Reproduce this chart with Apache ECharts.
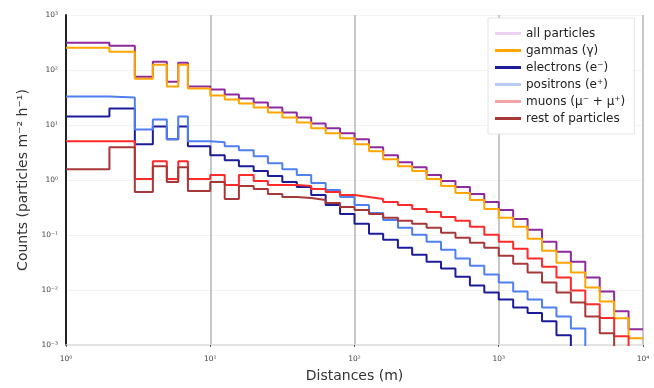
<!DOCTYPE html>
<html>
<head>
<meta charset="utf-8">
<script src="https://cdn.jsdelivr.net/npm/echarts@6/dist/echarts.min.js"></script>
<style>
  html, body { margin: 0; padding: 0; background: #fff; }
  #chart { width: 654px; height: 388px; }
</style>
</head>
<body>
<div id="chart"></div>
<script>
// bin edges (m): coarse bins up to 10 m, then 10 bins per decade
const binEdges = [1, 2, 3, 4, 5, 6, 7,
  10, 12.6, 15.8, 20, 25.1, 31.6, 39.8, 50.1, 63.1, 79.4,
  100, 126, 158, 200, 251, 316, 398, 501, 631, 794,
  1000, 1259, 1585, 1995, 2512, 3162, 3981, 5012, 6310, 7943, 10000];

// counts per bin (particles m^-2 h^-1)
const allParticles = [312, 275, 75.7, 141, 61.4, 136, 49.9,
  44.0, 35.7, 30.3, 25.6, 20.8, 16.9, 13.7, 10.7, 8.7, 7.05,
  5.50, 3.94, 2.82, 2.11, 1.71, 1.23, 0.955, 0.745, 0.556, 0.398,
  0.286, 0.196, 0.124, 0.0753, 0.0497, 0.0327, 0.0168, 0.0094, 0.0041, 0.00193];
const gammas = [253, 214, 69.6, 125, 49.9, 125, 45.9,
  34.3, 29.0, 24.6, 20.8, 16.9, 13.7, 11.1, 8.7, 7.05, 5.73,
  4.46, 3.33, 2.39, 1.78, 1.45, 1.04, 0.776, 0.579, 0.433, 0.298,
  0.205, 0.141, 0.0853, 0.0518, 0.0314, 0.0207, 0.0111, 0.0062, 0.00305, 0.00133];
const electrons = [14.3, 20.0, 4.46, 9.44, 5.50, 9.44, 4.10,
  2.82, 2.29, 1.78, 1.45, 1.18, 0.916, 0.745, 0.533, 0.352, 0.242,
  0.160, 0.105, 0.0818, 0.0587, 0.0439, 0.0327, 0.0245, 0.0175, 0.0121, 0.0090,
  0.0067, 0.0048, 0.0038, 0.0027, 0.0015];
const positrons = [32.9, 31.6, 8.32, 12.6, 5.50, 14.3, 5.05,
  4.84, 4.10, 3.47, 2.71, 2.02, 1.57, 1.23, 0.879, 0.656, 0.491,
  0.352, 0.252, 0.188, 0.135, 0.101, 0.0753, 0.0540, 0.0372, 0.0277, 0.0191,
  0.0137, 0.0094, 0.0067, 0.0048, 0.0033, 0.0020];
const muons = [5.05, 5.05, 1.04, 2.20, 1.04, 2.20, 1.04,
  1.23, 0.809, 1.23, 0.955, 0.809, 0.809, 0.776, 0.684, 0.604, 0.533,
  0.491, 0.452, 0.398, 0.352, 0.298, 0.263, 0.213, 0.181, 0.141, 0.101,
  0.0753, 0.0562, 0.0372, 0.0266, 0.0168, 0.0098, 0.0055, 0.0031, 0.00144];
const restOfParticles = [1.57, 3.94, 0.604, 1.78, 0.916, 1.71, 0.630,
  0.916, 0.452, 0.776, 0.684, 0.556, 0.491, 0.471, 0.434, 0.382, 0.324,
  0.286, 0.242, 0.205, 0.181, 0.160, 0.135, 0.110, 0.0889, 0.0723, 0.0587,
  0.0421, 0.0301, 0.0207, 0.0137, 0.0090, 0.0059, 0.0033, 0.00163];

const seriesNames = ["all particles", "gammas (γ)", "electrons (e⁻)",
  "positrons (e⁺)", "muons (μ⁻ + μ⁺)", "rest of particles"];
const seriesValues = [allParticles, gammas, electrons, positrons, muons, restOfParticles];
const lineColors = ["#8e2a9e", "#ffa500", "#1c1c9a", "#4f7ff0", "#ff2a2a", "#a83838"];
const legendColors = ["#ecd2f0", "#ffa500", "#1c1c9a", "#b8ccf8", "#f5a3a3", "#a83838"];

const yTicks = { 3: "10³", 2: "10²", 1: "10¹", 0: "10⁰", "-1": "10⁻¹", "-2": "10⁻²", "-3": "10⁻³" };
const xTicks = { 0: "10⁰", 1: "10¹", 2: "10²", 3: "10³", 4: "10⁴" };

// histogram outline: one point per bin start, plus the closing edge
function toSteps(vals) {
  const pts = vals.map((v, i) => [binEdges[i], v]);
  const n = vals.length;
  if (n === binEdges.length - 1) {
    pts.push([binEdges[n], vals[n - 1]]);
  } else {
    pts.push([binEdges[n], 1e-5]); // empty bins beyond: drop out of view
  }
  return pts;
}

const chart = echarts.init(document.getElementById("chart"));

chart.setOption({
  animation: false,
  backgroundColor: "#fff",
  grid: { left: 66, right: 11, top: 15, bottom: 41 },
  legend: {
    orient: "vertical",
    left: 488,
    top: 18,
    padding: [9, 9, 9, 7],
    itemGap: 4,
    itemWidth: 26,
    itemHeight: 3,
    icon: "rect",
    backgroundColor: "#fff",
    borderColor: "#e4e4e4",
    borderWidth: 1,
    textStyle: { fontFamily: "DejaVu Sans", fontSize: 12, color: "#222", lineHeight: 13 },
    data: seriesNames.map((name, i) => ({
      name: name,
      itemStyle: { color: legendColors[i] },
    })),
  },
  xAxis: {
    type: "log",
    logBase: 10,
    min: 1,
    max: 10000,
    name: "Distances (m)",
    nameLocation: "middle",
    nameGap: 24,
    nameTextStyle: { fontFamily: "DejaVu Sans", fontSize: 14, color: "#333" },
    axisLine: { show: true, lineStyle: { color: "#dcdcdc", width: 1.5 } },
    axisTick: { show: true, length: 2, inside: false, lineStyle: { color: "#555" } },
    axisLabel: {
      fontFamily: "DejaVu Sans",
      fontSize: 7.5,
      color: "#444",
      margin: 10,
      formatter: (v) => xTicks[Math.round(Math.log10(v))] || "",
    },
    splitLine: { show: true, lineStyle: { color: "#b4b4b4", width: 1.5 } },
  },
  yAxis: {
    type: "log",
    logBase: 10,
    min: 0.001,
    max: 1000,
    name: "Counts (particles m⁻² h⁻¹)",
    nameLocation: "middle",
    nameGap: 36,
    nameTextStyle: { fontFamily: "DejaVu Sans", fontSize: 14, color: "#333" },
    axisLine: { show: true, lineStyle: { color: "#222", width: 2 } },
    axisTick: { show: false },
    axisLabel: {
      fontFamily: "DejaVu Sans",
      fontSize: 7.5,
      color: "#444",
      margin: 8,
      formatter: (v) => yTicks[Math.round(Math.log10(v))] || "",
    },
    splitLine: { show: true, lineStyle: { color: "#f3f3f3", width: 1 } },
  },
  series: seriesNames.map((name, i) => ({
    name: name,
    type: "line",
    step: "end",
    symbol: "none",
    clip: true,
    data: toSteps(seriesValues[i]),
    itemStyle: { color: lineColors[i] },
    lineStyle: { color: lineColors[i], width: 2 },
  })),
});
</script>
</body>
</html>
